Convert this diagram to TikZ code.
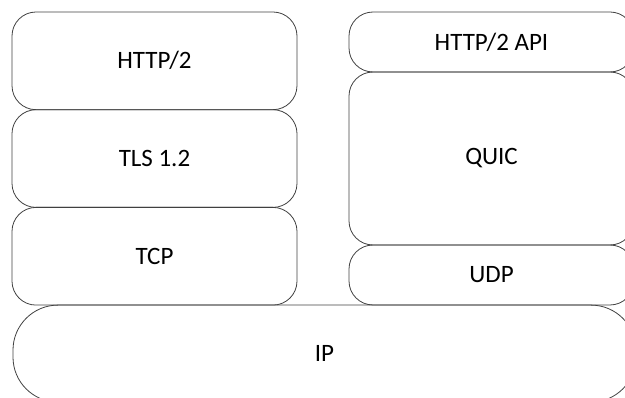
\documentclass[tikz,border=0pt]{standalone}
\usepackage{fontspec}
\setmainfont{Carlito}
\usetikzlibrary{positioning}

\begin{document}
\begin{tikzpicture}[
    x=1pt, y=1pt,
    node distance=0pt,
    layer/.style={rectangle, draw=black!75, line width=0.8pt, outer sep=0pt, inner sep=0pt, rounded corners=24pt, minimum width=285pt, align=center, font=\fontsize{25}{30}\selectfont},
    tallayer/.style={layer, minimum height=97.7pt},
    slimlayer/.style={layer, minimum height=60pt},
    baselayer/.style={layer, minimum width=623pt, minimum height=97pt, rounded corners=45pt}
]
\clip (0,0) rectangle (625,-398);

% Left stack
\node[tallayer] (http2) at (154.5,-60.85) {HTTP/2};
\node[tallayer, below=of http2] (tls) {TLS 1.2};
\node[tallayer, below=of tls] (tcp) {TCP};

% Right stack
\node[slimlayer, anchor=north] (api) at (491.5,-12) {HTTP/2 API};
\node[slimlayer, minimum height=173pt, below=of api] (quic) {QUIC};
\node[slimlayer, below=of quic] (udp) {UDP};

% Bottom
\node[baselayer, below=of tcp.south west, anchor=north west, xshift=1pt] (ip) {IP};

\end{tikzpicture}
\end{document}
